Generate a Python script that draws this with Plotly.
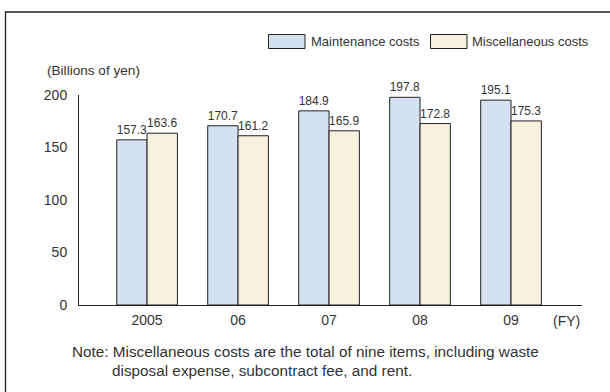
import plotly.graph_objects as go

years = ["2005", "06", "07", "08", "09"]
maintenance = [157.3, 170.7, 184.9, 197.8, 195.1]
miscellaneous = [163.6, 161.2, 165.9, 172.8, 175.3]
y_ticks = [0, 50, 100, 150, 200]

W, H = 610, 392
L, R, T, B = 79, 28, 95, 87
PW, PH = W - L - R, H - T - B


def px(x):
    return (x - L) / PW


def py(y):
    return (H - B - y) / PH


FONT = "Liberation Sans, Arial, sans-serif"
TXT = "#333333"
BLUE = "#d5e1f1"
BEIGE = "#f6f0df"
EDGE = "#222222"

xpos = list(range(len(years)))

fig = go.Figure()
fig.add_trace(go.Bar(
    x=xpos, y=maintenance, name="Maintenance costs",
    marker=dict(color=BLUE, line=dict(color=EDGE, width=1)),
    text=[f"{v:.1f}" for v in maintenance], textposition="outside",
    textfont=dict(family=FONT, size=12, color=TXT), cliponaxis=False,
))
fig.add_trace(go.Bar(
    x=xpos, y=miscellaneous, name="Miscellaneous costs",
    marker=dict(color=BEIGE, line=dict(color=EDGE, width=1)),
    text=[f"{v:.1f}" for v in miscellaneous], textposition="outside",
    textfont=dict(family=FONT, size=12, color=TXT), cliponaxis=False,
))

fig.update_layout(
    width=W, height=H,
    margin=dict(l=L, r=R, t=T, b=B, pad=0),
    paper_bgcolor="white", plot_bgcolor="white",
    barmode="group", bargap=0.333, bargroupgap=0,
    showlegend=False,
    font=dict(family=FONT, size=13, color=TXT),
    uniformtext=dict(mode=False),
)
fig.update_xaxes(
    range=[-0.748, 4.78], tickmode="array", tickvals=xpos, ticktext=years,
    showline=True, linecolor=EDGE, linewidth=1, showgrid=False, zeroline=False,
    ticks="", ticklabelstandoff=2, tickfont=dict(family=FONT, size=14, color=TXT),
)
fig.update_yaxes(
    range=[0, 200], tickmode="array", tickvals=y_ticks,
    showline=True, linecolor=EDGE, linewidth=1, showgrid=False, zeroline=False,
    ticks="", ticklabelstandoff=8, tickfont=dict(family=FONT, size=14, color=TXT),
)

shapes = [
    # outer frame (extends past right/bottom edges)
    dict(type="rect", xref="paper", yref="paper",
         x0=px(5.5), x1=px(640), y0=py(420), y1=py(12),
         line=dict(color="#222222", width=1.3), fillcolor="rgba(0,0,0,0)", layer="below"),
    # legend swatches
    dict(type="rect", xref="paper", yref="paper",
         x0=px(268.5), x1=px(305), y0=py(48.5), y1=py(34.5),
         line=dict(color=EDGE, width=1), fillcolor=BLUE),
    dict(type="rect", xref="paper", yref="paper",
         x0=px(430.5), x1=px(467), y0=py(48.5), y1=py(34.5),
         line=dict(color=EDGE, width=1), fillcolor=BEIGE),
]

annotations = [
    dict(text="Maintenance costs", x=px(309), y=py(41), xref="paper", yref="paper",
         xanchor="left", yanchor="middle", showarrow=False,
         font=dict(family=FONT, size=13, color=TXT)),
    dict(text="Miscellaneous costs", x=px(470), y=py(41), xref="paper", yref="paper",
         xanchor="left", yanchor="middle", showarrow=False,
         font=dict(family=FONT, size=13, color=TXT)),
    dict(text="(Billions of yen)", x=px(45), y=py(70), xref="paper", yref="paper",
         xanchor="left", yanchor="middle", showarrow=False,
         font=dict(family=FONT, size=13.6, color=TXT)),
    dict(text="(FY)", x=px(582), y=py(320.5), xref="paper", yref="paper",
         xanchor="right", yanchor="middle", showarrow=False,
         font=dict(family=FONT, size=14, color=TXT)),
    dict(text="Note: Miscellaneous costs are the total of nine items, including waste",
         x=px(70), y=py(351.5), xref="paper", yref="paper",
         xanchor="left", yanchor="middle", showarrow=False,
         font=dict(family=FONT, size=15.3, color=TXT)),
    dict(text="disposal expense, subcontract fee, and rent.",
         x=px(110), y=py(370), xref="paper", yref="paper",
         xanchor="left", yanchor="middle", showarrow=False,
         font=dict(family=FONT, size=15.3, color=TXT)),
]

fig.update_layout(shapes=shapes, annotations=annotations)
fig.write_html("out.html")
